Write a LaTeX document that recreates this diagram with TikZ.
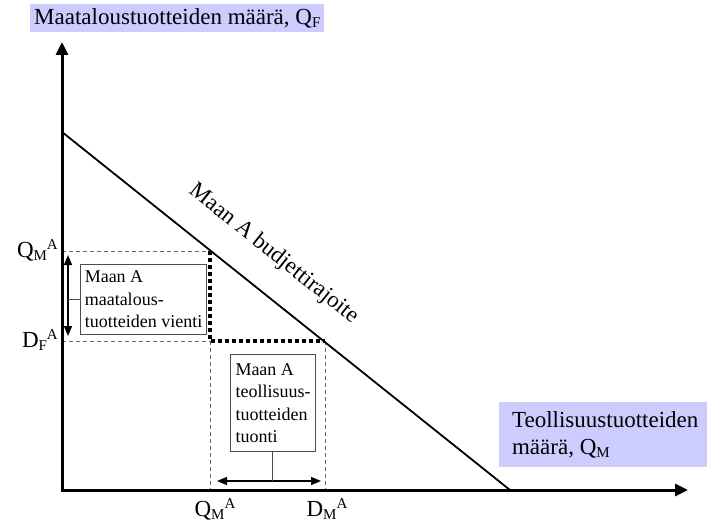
\documentclass[tikz,border=0pt]{standalone}
\usepackage{fontspec}
\setmainfont{Liberation Serif}
\usetikzlibrary{arrows.meta}
\definecolor{titlebg}{RGB}{204,204,255}
\newcommand\qlab[3]{#1\raisebox{-0.32ex}{\fontsize{15}{15}\selectfont #2}\raisebox{0.75ex}{\fontsize{15}{15}\selectfont #3}}
\newcommand\qsub[2]{#1\raisebox{-0.32ex}{\fontsize{15}{15}\selectfont #2}}
\tikzset{
  axis/.style={line width=3pt,-{Triangle[length=13pt,width=12pt]}},
  budget/.style={line width=1.8pt},
  guide/.style={line width=0.8pt,draw=black!60,dash pattern=on 4pt off 3pt},
  dots/.style={line width=4pt,dash pattern=on 3.5pt off 3.5pt},
  infobox/.style={draw=black!70,line width=1pt,fill=white,align=left,font=\fontsize{18}{22.5}\selectfont,inner xsep=4pt,inner ysep=4pt,anchor=north west},
  dbl/.style={line width=1.3pt,{Triangle[length=10pt,width=8pt]}-{Triangle[length=10pt,width=8pt]}},
  tick/.style={line width=1pt,draw=black!70},
  big/.style={font=\fontsize{23}{27}\selectfont},
  title/.style={big,fill=titlebg,inner sep=4pt,align=left}
}
\begin{document}
\begin{tikzpicture}[x=1pt,y=-1pt]
\useasboundingbox (0,0) rectangle (707,527);
% coordinates
\coordinate (O) at (62,490);
\coordinate (ytip) at (62,42);
\coordinate (xtip) at (688,490);
\coordinate (B1) at (62,132);
\coordinate (B2) at (510,490);
\coordinate (P) at (210,251);
\coordinate (Pd) at (210,341);
\coordinate (R) at (325,341);
\coordinate (Ly) at (62,251);
\coordinate (Lf) at (62,341);
\coordinate (Px) at (210,490);
\coordinate (Rx) at (325,490);
% titles
\node[title,anchor=north west] (ytitle) at (30,4) {Maataloustuotteiden määrä, \qsub{Q}{F}};
\node[title,anchor=north west,minimum width=212pt,minimum height=65pt,inner sep=4pt] (xtitle) at (499,402) {Teollisuustuotteiden\\määrä, \qsub{Q}{M}};
% guides
\draw[guide] (Ly) -- (P);
\draw[guide] (Lf) -- (Pd);
\draw[guide] (Pd) -- (Px);
\draw[guide] (R) -- (Rx);
\draw[dots] (P) -- (Pd) -- (R);
% budget line
\draw[budget] (B1) -- (B2);
\node[big,rotate=-38.6] (blabel) at (274,254) {Maan A budjettirajoite};
% axes
\draw[axis] (O) -- (ytip);
\draw[axis] ([xshift=-1.5pt]O) -- (xtip);
% left box
\node[infobox,minimum width=126pt,minimum height=70pt] (lbox) at (80,264) {Maan A\\maatalous-\\tuotteiden vienti};
\coordinate (la1) at (68,255);
\coordinate (la2) at (68,336);
\draw[dbl] (la1) -- (la2);
\coordinate (lam) at (68,299);
\draw[tick] (lam) -- (lbox.west |- lam);
% bottom box
\node[infobox,minimum width=85pt,minimum height=97pt] (bbox) at (230,354) {Maan A\\teollisuus-\\tuotteiden\\tuonti};
\coordinate (ba1) at (217,481);
\coordinate (ba2) at (321,481);
\draw[dbl] (ba1) -- (ba2);
\coordinate (bam) at (272,481);
\draw[tick] (bbox.south -| bam) -- (bam);
% labels
\node[big,anchor=east,inner sep=0pt] (lq) at (58,250) {\qlab{Q}{M}{A}};
\node[big,anchor=east,inner sep=0pt] (ld) at (58,340) {\qlab{D}{F}{A}};
\node[big,anchor=north,inner sep=0pt] (bq) at (215,498) {\qlab{Q}{M}{A}};
\node[big,anchor=north,inner sep=0pt] (bd) at (327,498) {\qlab{D}{M}{A}};
\end{tikzpicture}
\end{document}
